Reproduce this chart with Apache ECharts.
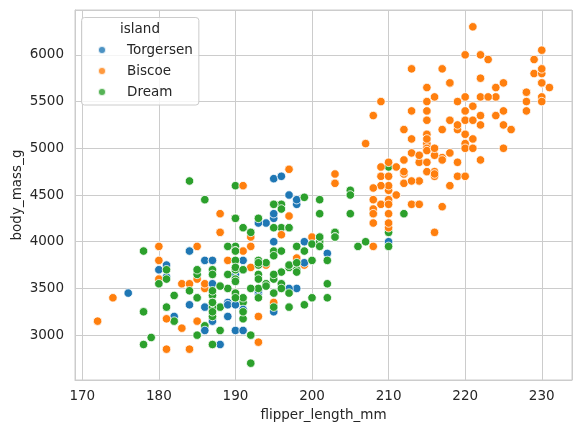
<!DOCTYPE html>
<html><head><meta charset="utf-8">
<script src="https://cdn.jsdelivr.net/npm/echarts@6/dist/echarts.min.js"></script>
<style>html,body{margin:0;padding:0;background:#fff}#c{width:580px;height:433px}</style>
</head><body><div id="c"></div>
<script>
// island categories (legend order)
const islands = ['Torgersen', 'Biscoe', 'Dream'];
const islandColors = ['#1f77b4', '#ff7f0e', '#2ca02c'];

// Adelie rows in dataset order: island index (0 Torgersen, 1 Biscoe, 2 Dream)
const adelieIsland = [
0,0,0,0,0,0,0,0,0,0,0,0,0,0,0,0,0,0,0,
1,1,1,1,1,1,1,1,1,1,
2,2,2,2,2,2,2,2,2,2,2,2,2,2,2,2,2,2,2,2,
1,1,1,1,1,1,1,1,1,1,1,1,1,1,1,1,1,1,
0,0,0,0,0,0,0,0,0,0,0,0,0,0,0,0,
2,2,2,2,2,2,2,2,2,2,2,2,2,2,2,2,
1,1,1,1,1,1,1,1,1,1,1,1,1,1,1,1,
0,0,0,0,0,0,0,0,0,0,0,0,0,0,0,0,
2,2,2,2,2,2,2,2,2,2,2,2,2,2,2,2,2,2,2,2
];
const adelieFlipper = [
181,186,195,193,190,181,195,193,190,186,180,182,191,198,185,195,197,184,194,
174,180,189,185,180,187,183,187,172,180,
178,178,188,184,195,196,190,180,181,184,182,195,186,196,185,190,182,179,190,191,
186,188,190,200,187,191,186,193,181,194,185,195,185,192,184,192,195,188,
190,198,190,190,196,197,190,195,191,184,187,195,189,196,187,193,
191,194,190,189,189,190,202,205,185,186,187,208,190,196,178,192,
192,203,183,190,193,184,199,190,181,197,198,191,193,197,191,196,
188,199,189,189,187,198,176,202,186,199,191,195,191,210,190,197,
193,199,187,190,191,200,185,193,193,187,188,190,192,185,190,184,195,193,187,201
];
const adelieMass = [
3750,3800,3250,3450,3650,3625,4675,3475,4250,3300,3700,3200,3800,4400,3700,3450,4500,3325,4200,
3400,3600,3800,3950,3800,3800,3550,3200,3150,3950,
3250,3900,3300,3900,3325,4150,3950,3550,3300,4650,3150,3900,3100,4400,3000,4600,3425,2975,3450,4150,
3500,4300,3450,4050,2900,3700,3550,3800,2850,3750,3150,4400,3600,4050,2850,3950,3350,4100,
3050,4450,3600,3900,3550,4150,3700,4250,3700,3900,3550,4000,3200,4700,3800,4200,
3350,3550,3800,3500,3950,3600,3550,4300,3400,4450,3300,4300,3700,4350,2900,4100,
3725,4725,3075,4250,2925,3550,3750,3900,3175,4775,3825,4600,3200,4275,3900,4075,
2900,3775,3350,3325,3150,3500,3450,3875,3050,4000,3275,4300,3050,4000,3325,3500,
3500,4475,3425,3900,3175,3975,3400,4250,3400,3475,3050,3725,3000,3650,4250,3475,3450,3750,3700,4000
];

// Chinstrap rows (all Dream)
const chinstrapFlipper = [
192,196,193,188,197,198,178,197,195,198,193,194,185,201,190,201,197,181,190,195,181,191,187,193,195,197,
200,200,191,205,187,201,187,203,195,199,195,210,
192,205,210,187,196,196,196,201,190,212,187,198,199,201,193,203,187,197,191,203,202,194,206,189,195,207,202,193,210,198
];
const chinstrapMass = [
3500,3900,3650,3525,3725,3950,3250,3750,4150,3700,3800,3775,3700,4050,3575,4050,3300,3700,3450,4400,3600,3400,2900,3800,3300,4150,
3400,3800,3700,4550,3200,4300,3350,4100,3600,3900,3850,4800,
2700,4500,3950,3650,3550,3500,3675,4450,3400,4300,3250,3675,3325,3950,3600,4050,3350,3450,3250,4050,3800,3525,3950,3650,3650,4000,3400,3775,4100,3775
];

// Gentoo rows (all Biscoe)
const gentooFlipper = [
211,230,210,218,215,210,211,219,209,215,214,216,214,213,210,217,210,221,209,222,218,215,213,215,215,215,216,215,210,220,222,209,207,230,
220,220,213,219,208,208,208,225,210,216,222,217,210,225,213,215,210,220,210,225,217,220,208,220,208,224,208,221,214,231,219,230,214,229,220,223,216,221,221,217,216,230,209,220,215,223,
212,221,212,224,212,228,218,218,212,230,218,228,212,224,214,226,216,222,203,225,219,228,215,228,216,215,210,219,208,209,216,229,213,230,217,230,217,222,214,215,222,212,213
];
const gentooMass = [
4500,5700,4450,5700,5400,4550,4800,5200,4400,5150,4650,5550,4650,5850,4200,5850,4150,6300,4800,5350,5700,5000,4400,5050,5000,5100,4100,5650,4600,5550,5250,4700,5050,6050,
5150,5400,4950,5250,4350,5350,3950,5700,4300,4750,5550,4900,4200,5400,5100,5300,4850,5300,4400,5000,4900,5050,4300,5000,4450,5550,4200,5300,4400,5650,4700,5700,4650,5800,4700,5550,4750,5000,5100,5200,4700,5800,4600,6000,4750,5950,
4625,5450,4725,5350,4750,5600,4600,5300,4875,5550,4950,5400,4750,5650,4850,5200,4925,4875,4625,5250,4850,5600,4975,5500,4725,5500,4700,5500,4575,5500,5000,5950,4650,5500,4375,5850,4875,6000,4925,4850,5750,5200,5400
];

// assemble points in dataset order (Adelie, Chinstrap, Gentoo)
const points = [];
function add(x, y, isl) {
  points.push({ value: [x, y, islands[isl]], itemStyle: { color: islandColors[isl] } });
}
adelieFlipper.forEach((f, i) => add(f, adelieMass[i], adelieIsland[i]));
chinstrapFlipper.forEach((f, i) => add(f, chinstrapMass[i], 2));
gentooFlipper.forEach((f, i) => add(f, gentooMass[i], 1));

const FONT = 'DejaVu Sans';
const TXT = '#262626';
const GRID = '#cccccc';

const chart = echarts.init(document.getElementById('c'), null, { renderer: 'canvas' });
chart.setOption({
  animation: false,
  backgroundColor: '#ffffff',
  textStyle: { fontFamily: FONT },
  grid: { left: 75, right: 8, top: 10, bottom: 53, show: true, borderColor: GRID, borderWidth: 1, containLabel: false, outerBoundsMode: 'none' },
  xAxis: {
    type: 'value', min: 169.05, max: 233.95, minInterval: 10, maxInterval: 10,
    name: 'flipper_length_mm', nameLocation: 'middle', nameGap: 28, nameMoveOverlap: false,
    nameTextStyle: { color: TXT, fontSize: 13.5, fontFamily: FONT },
    axisLine: { show: true, lineStyle: { color: GRID, width: 1 } },
    axisTick: { show: false },
    axisLabel: { color: TXT, fontSize: 13.5, fontFamily: FONT, margin: 9, showMinLabel: false, showMaxLabel: false, formatter: v => String(v) },
    splitLine: { show: true, lineStyle: { color: GRID, width: 1 } }
  },
  yAxis: {
    type: 'value', min: 2520, max: 6480, minInterval: 500, maxInterval: 500,
    name: 'body_mass_g', nameLocation: 'middle', nameGap: 51, nameMoveOverlap: false,
    nameTextStyle: { color: TXT, fontSize: 13.5, fontFamily: FONT },
    axisLine: { show: true, lineStyle: { color: GRID, width: 1 } },
    axisTick: { show: false },
    axisLabel: { color: TXT, fontSize: 13.5, fontFamily: FONT, margin: 11, showMinLabel: false, showMaxLabel: false, formatter: v => String(v) },
    splitLine: { show: true, lineStyle: { color: GRID, width: 1 } }
  },
  legend: {
    orient: 'vertical', left: 81.5, top: 17.5,
    data: islands, icon: 'circle',
    itemWidth: 8, itemHeight: 8, itemGap: 5,
    padding: [24.5, 6, 5, 15.5],
    borderColor: GRID, borderWidth: 1, borderRadius: 3,
    backgroundColor: 'rgba(255,255,255,0.8)',
    textStyle: { fontSize: 13.5, color: TXT, fontFamily: FONT, lineHeight: 16, padding: [0, 0, 0, 16] }
  },
  graphic: [{
    type: 'text', x: 140, y: 29, z: 10,
    style: { text: 'island', fill: TXT, font: '13.5px "DejaVu Sans"', align: 'center', verticalAlign: 'middle' }
  }],
  series: [
    {
      name: 'all', type: 'scatter', data: points, symbolSize: 8.5,
      itemStyle: { borderColor: '#ffffff', borderWidth: 0.8, opacity: 1 },
      emphasis: { disabled: true }
    },
    ...islands.map((n, k) => ({
      name: n, type: 'scatter', data: [], symbolSize: 8.5,
      itemStyle: { color: islandColors[k], borderColor: '#ffffff', borderWidth: 0.8 }
    }))
  ]
});
</script></body></html>
